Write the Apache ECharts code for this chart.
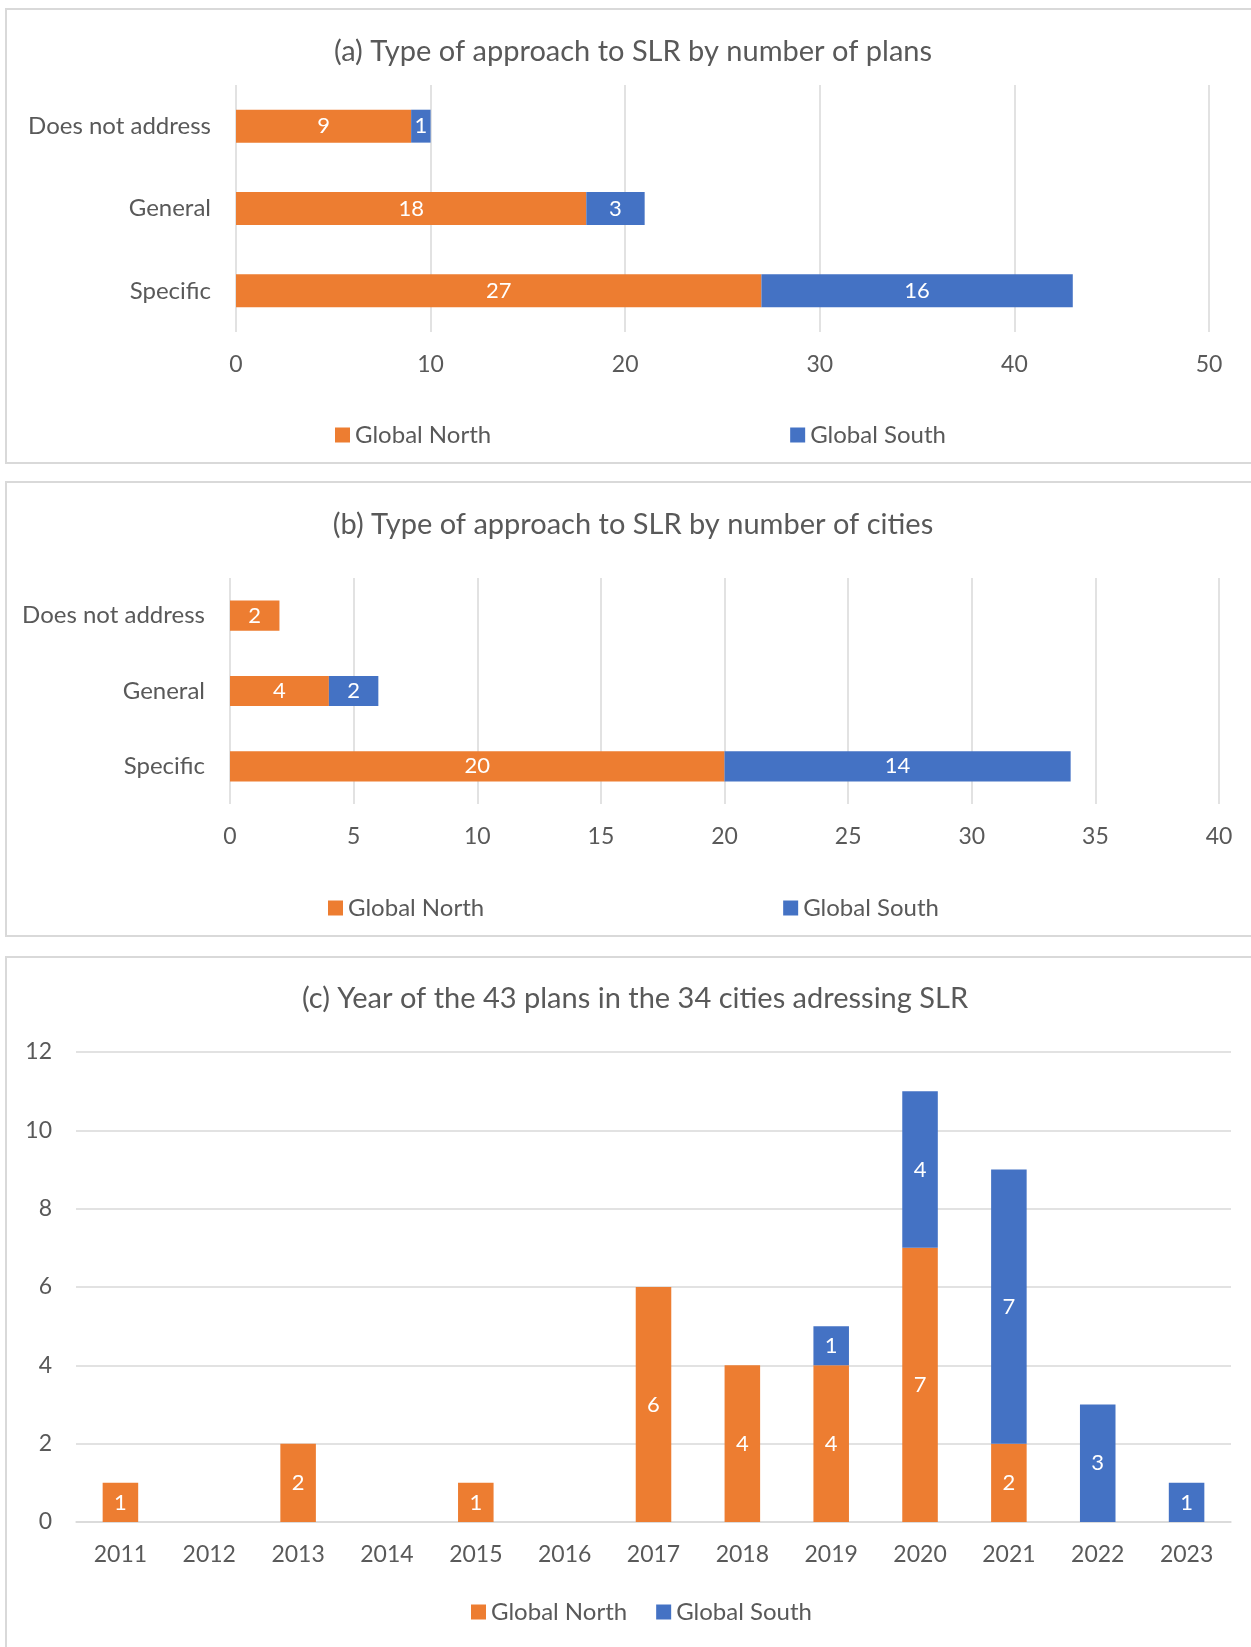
<!DOCTYPE html>
<html>
<head>
<meta charset="utf-8">
<script src="https://cdn.jsdelivr.net/npm/echarts@6/dist/echarts.min.js"></script>
<style>
  html, body { margin: 0; padding: 0; background: #fff; }
  #chart { width: 1251px; height: 1647px; }
</style>
</head>
<body>
<div id="chart"></div>
<script>
// (a) plans, (b) cities
const approachCats = ['Does not address', 'General', 'Specific'];
const plansNorth = [9, 18, 27];
const plansSouth = [1, 3, 16];
const citiesNorth = [2, 4, 20];
const citiesSouth = [0, 2, 14];

// (c) year of plans
const years = ['2011', '2012', '2013', '2014', '2015', '2016', '2017', '2018', '2019', '2020', '2021', '2022', '2023'];
const yearNorth = [1, 0, 2, 0, 1, 0, 6, 4, 4, 7, 2, 0, 0];
const yearSouth = [0, 0, 0, 0, 0, 0, 0, 0, 1, 4, 7, 3, 1];

const ORANGE = '#ED7D31';
const BLUE = '#4472C4';
const GRID = '#d9d9d9';
const TXT = '#595959';
const FONT = 'Lato';

const chart = echarts.init(document.getElementById('chart'));

const barLabel = {
  show: true,
  position: 'inside',
  color: '#fff',
  fontFamily: FONT,
  fontSize: 22,
  formatter: p => (p.value ? p.value : '')
};

const valueAxisH = (idx, max, interval) => ({
  type: 'value', gridIndex: idx, min: 0, max: max, interval: interval,
  axisLine: { show: false }, axisTick: { show: false },
  splitLine: { lineStyle: { color: GRID, width: 1.5 } },
  axisLabel: { color: TXT, fontFamily: FONT, fontSize: 23, margin: 21 }
});
const catAxisH = (idx) => ({
  type: 'category', gridIndex: idx, data: approachCats, inverse: true,
  axisLine: { show: false }, axisTick: { show: false },
  axisLabel: { color: TXT, fontFamily: FONT, fontSize: 24, margin: 25 }
});

const titleStyle = { color: TXT, fontFamily: FONT, fontSize: 29, fontWeight: 'normal' };
const legendStyle = { color: TXT, fontFamily: FONT, fontSize: 24 };

const option = {
  animation: false,
  color: [ORANGE, BLUE],
  title: [
    { text: '(a) Type of approach to SLR by number of plans', left: 633, top: 37, textAlign: 'center', padding: 0, textStyle: titleStyle },
    { text: '(b) Type of approach to SLR by number of cities', left: 633, top: 510, textAlign: 'center', padding: 0, textStyle: titleStyle },
    { text: '(c) Year of the 43 plans in the 34 cities adressing SLR', left: 635, top: 984, textAlign: 'center', padding: 0, textStyle: titleStyle }
  ],
  legend: [
    { data: ['Global North', 'Global South'], left: 335, top: 423, padding: 0, itemWidth: 15, itemHeight: 15, itemGap: 299, itemTextGap: 5, icon: 'rect', textStyle: legendStyle },
    { data: ['Global North', 'Global South'], left: 328, top: 896, padding: 0, itemWidth: 15, itemHeight: 15, itemGap: 299, itemTextGap: 5, icon: 'rect', textStyle: legendStyle },
    { data: ['Global North', 'Global South'], left: 471, top: 1600, padding: 0, itemWidth: 15, itemHeight: 15, itemGap: 29, itemTextGap: 5, icon: 'rect', textStyle: legendStyle }
  ],
  grid: [
    { left: 236, top: 85, width: 973, height: 247 },
    { left: 230, top: 578, width: 989, height: 226 },
    { left: 76, top: 1052, width: 1155, height: 470 }
  ],
  xAxis: [
    valueAxisH(0, 50, 10),
    valueAxisH(1, 40, 5),
    {
      type: 'category', gridIndex: 2, data: years,
      axisLine: { lineStyle: { color: GRID, width: 1.5 } }, axisTick: { show: false },
      axisLabel: { color: TXT, fontFamily: FONT, fontSize: 23, margin: 21 }
    }
  ],
  yAxis: [
    catAxisH(0),
    catAxisH(1),
    {
      type: 'value', gridIndex: 2, min: 0, max: 12, interval: 2,
      axisLine: { show: false }, axisTick: { show: false },
      splitLine: { lineStyle: { color: GRID, width: 1.5 } },
      axisLabel: { color: TXT, fontFamily: FONT, fontSize: 23, margin: 24 }
    }
  ],
  graphic: [
    { type: 'rect', shape: { x: 6, y: 9, width: 1250, height: 454 }, style: { fill: 'none', stroke: GRID, lineWidth: 2 }, z: -1 },
    { type: 'rect', shape: { x: 6, y: 482, width: 1250, height: 454 }, style: { fill: 'none', stroke: GRID, lineWidth: 2 }, z: -1 },
    { type: 'rect', shape: { x: 6, y: 957, width: 1250, height: 720 }, style: { fill: 'none', stroke: GRID, lineWidth: 2 }, z: -1 }
  ],
  series: [
    { name: 'Global North', type: 'bar', stack: 'a', xAxisIndex: 0, yAxisIndex: 0, barCategoryGap: '60%', data: plansNorth, label: barLabel },
    { name: 'Global South', type: 'bar', stack: 'a', xAxisIndex: 0, yAxisIndex: 0, barCategoryGap: '60%', data: plansSouth, label: barLabel },
    { name: 'Global North', type: 'bar', stack: 'b', xAxisIndex: 1, yAxisIndex: 1, barCategoryGap: '60%', data: citiesNorth, label: barLabel },
    { name: 'Global South', type: 'bar', stack: 'b', xAxisIndex: 1, yAxisIndex: 1, barCategoryGap: '60%', data: citiesSouth, label: barLabel },
    { name: 'Global North', type: 'bar', stack: 'c', xAxisIndex: 2, yAxisIndex: 2, barCategoryGap: '60%', data: yearNorth, label: barLabel },
    { name: 'Global South', type: 'bar', stack: 'c', xAxisIndex: 2, yAxisIndex: 2, barCategoryGap: '60%', data: yearSouth, label: barLabel }
  ]
};

chart.setOption(option);
</script>
</body>
</html>
